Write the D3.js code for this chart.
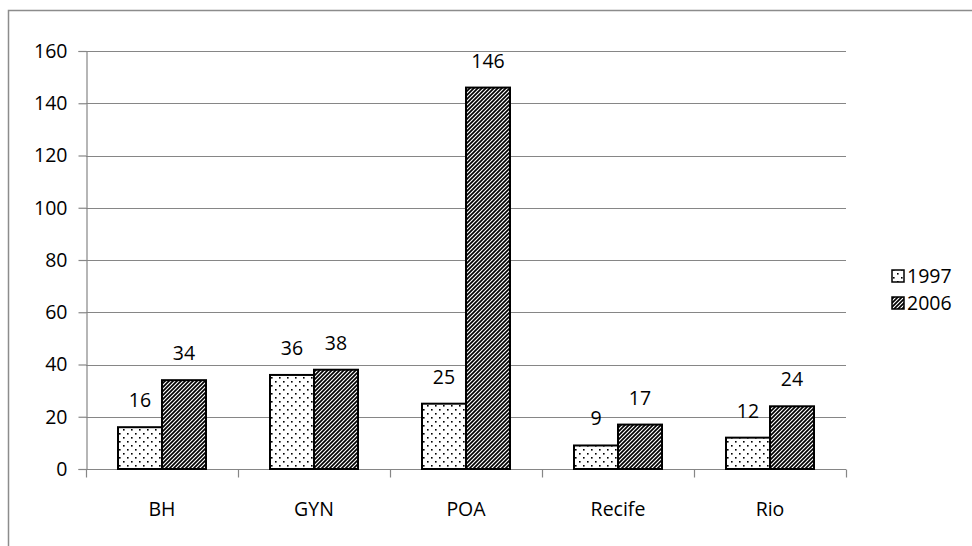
<!DOCTYPE html>
<html>
<head>
<meta charset="utf-8">
<script src="https://cdn.jsdelivr.net/npm/d3@7/dist/d3.min.js"></script>
<style>
  html, body { margin: 0; padding: 0; background: #fff; }
  svg { display: block; }
  text { font-family: "Open Sans", "Noto Sans", sans-serif; fill: #000; }
</style>
</head>
<body>
<svg id="chart" width="972" height="546"></svg>
<script>
const categories = ["BH", "GYN", "POA", "Recife", "Rio"];
const seriesNames = ["1997", "2006"];
const values1997 = [16, 36, 25, 9, 12];
const values2006 = [34, 38, 146, 17, 24];
const yTicks = [0, 20, 40, 60, 80, 100, 120, 140, 160];

const seriesValues = [values1997, values2006];
const svg = d3.select("#chart");
const W = 972, H = 546;
const plot = { left: 86, right: 846, top: 51, bottom: 469 };
const gridColor = "#868686";
const fs = 19.5;

// patterns
const defs = svg.append("defs");
const dots = defs.append("pattern").attr("id", "pat1997")
  .attr("patternUnits", "userSpaceOnUse").attr("width", 8).attr("height", 8);
dots.append("rect").attr("width", 8).attr("height", 8).attr("fill", "#fff");
dots.append("rect").attr("x", 1).attr("y", 1).attr("width", 1.6).attr("height", 1.6).attr("fill", "#000");
dots.append("rect").attr("x", 5).attr("y", 5).attr("width", 1.6).attr("height", 1.6).attr("fill", "#000");

const diag = defs.append("pattern").attr("id", "pat2006")
  .attr("patternUnits", "userSpaceOnUse").attr("width", 4).attr("height", 4);
diag.append("rect").attr("width", 4).attr("height", 4).attr("fill", "#fff");
diag.append("path").attr("d", "M-1,1 L1,-1 M0,4 L4,0 M3,5 L5,3")
  .attr("stroke", "#000").attr("stroke-width", 1.7);

const fills = ["url(#pat1997)", "url(#pat2006)"];

// outer frame
svg.append("path").attr("d", `M8.5,${H} V10.5 H${W}`)
  .attr("fill", "none").attr("stroke", "#8c8c8c").attr("stroke-width", 1.5);

const y = d3.scaleLinear().domain([0, 160]).range([plot.bottom, plot.top]);
const x0 = d3.scaleBand().domain(categories).range([plot.left, plot.right]);
const x1 = d3.scaleBand().domain(seriesNames).range([32, x0.bandwidth() - 32]);

// gridlines
svg.append("g").selectAll("line").data(yTicks.filter(t => t > 0)).join("line")
  .attr("x1", plot.left).attr("x2", plot.right)
  .attr("y1", d => Math.round(y(d)) + 0.5).attr("y2", d => Math.round(y(d)) + 0.5)
  .attr("stroke", gridColor).attr("stroke-width", 1.2);

// y axis
const yAxis = svg.append("g").attr("transform", `translate(${plot.left + 0.5},0)`)
  .call(d3.axisLeft(y).tickValues(yTicks).tickSize(8).tickPadding(11));
yAxis.select(".domain").attr("stroke", gridColor).attr("stroke-width", 1.2);
yAxis.selectAll(".tick line").attr("stroke", gridColor).attr("stroke-width", 1.2);
yAxis.selectAll("text").attr("font-size", fs).attr("font-family", "Open Sans");

// x axis
const xAxisG = svg.append("g").attr("transform", `translate(0,${plot.bottom + 0.5})`);
xAxisG.append("line").attr("x1", plot.left).attr("x2", plot.right)
  .attr("stroke", gridColor).attr("stroke-width", 1.2);
const boundaries = categories.map(c => x0(c)).concat([plot.right]);
xAxisG.selectAll("line.tk").data(boundaries).join("line").attr("class", "tk")
  .attr("x1", d => Math.round(d) + 0.5).attr("x2", d => Math.round(d) + 0.5)
  .attr("y1", 0).attr("y2", 8)
  .attr("stroke", gridColor).attr("stroke-width", 1.2);
xAxisG.selectAll("text").data(categories).join("text")
  .attr("x", d => x0(d) + x0.bandwidth() / 2).attr("y", 46)
  .attr("text-anchor", "middle").attr("font-size", fs).text(d => d);

// bars
const groups = svg.append("g").selectAll("g").data(categories).join("g")
  .attr("transform", d => `translate(${x0(d)},0)`);
seriesNames.forEach((s, si) => {
  groups.append("rect")
    .attr("x", (d) => x1(s))
    .attr("y", (d, i) => y(seriesValues[si][i]))
    .attr("width", x1.bandwidth())
    .attr("height", (d, i) => y(0) - y(seriesValues[si][i]))
    .attr("fill", fills[si]).attr("stroke", "#000").attr("stroke-width", 2);
  groups.append("text")
    .attr("x", x1(s) + x1.bandwidth() / 2)
    .attr("y", (d, i) => y(seriesValues[si][i]) - 20)
    .attr("text-anchor", "middle").attr("font-size", fs)
    .text((d, i) => seriesValues[si][i]);
});

// legend
const legend = svg.append("g").selectAll("g").data(seriesNames).join("g")
  .attr("transform", (d, i) => `translate(892,${276 + i * 27})`);
legend.append("rect").attr("x", 0).attr("y", -6).attr("width", 12).attr("height", 12)
  .attr("fill", (d, i) => fills[i]).attr("stroke", "#000").attr("stroke-width", 1.5);
legend.append("text").attr("x", 15).attr("y", 7).attr("font-size", fs).text(d => d);
</script>
</body>
</html>
